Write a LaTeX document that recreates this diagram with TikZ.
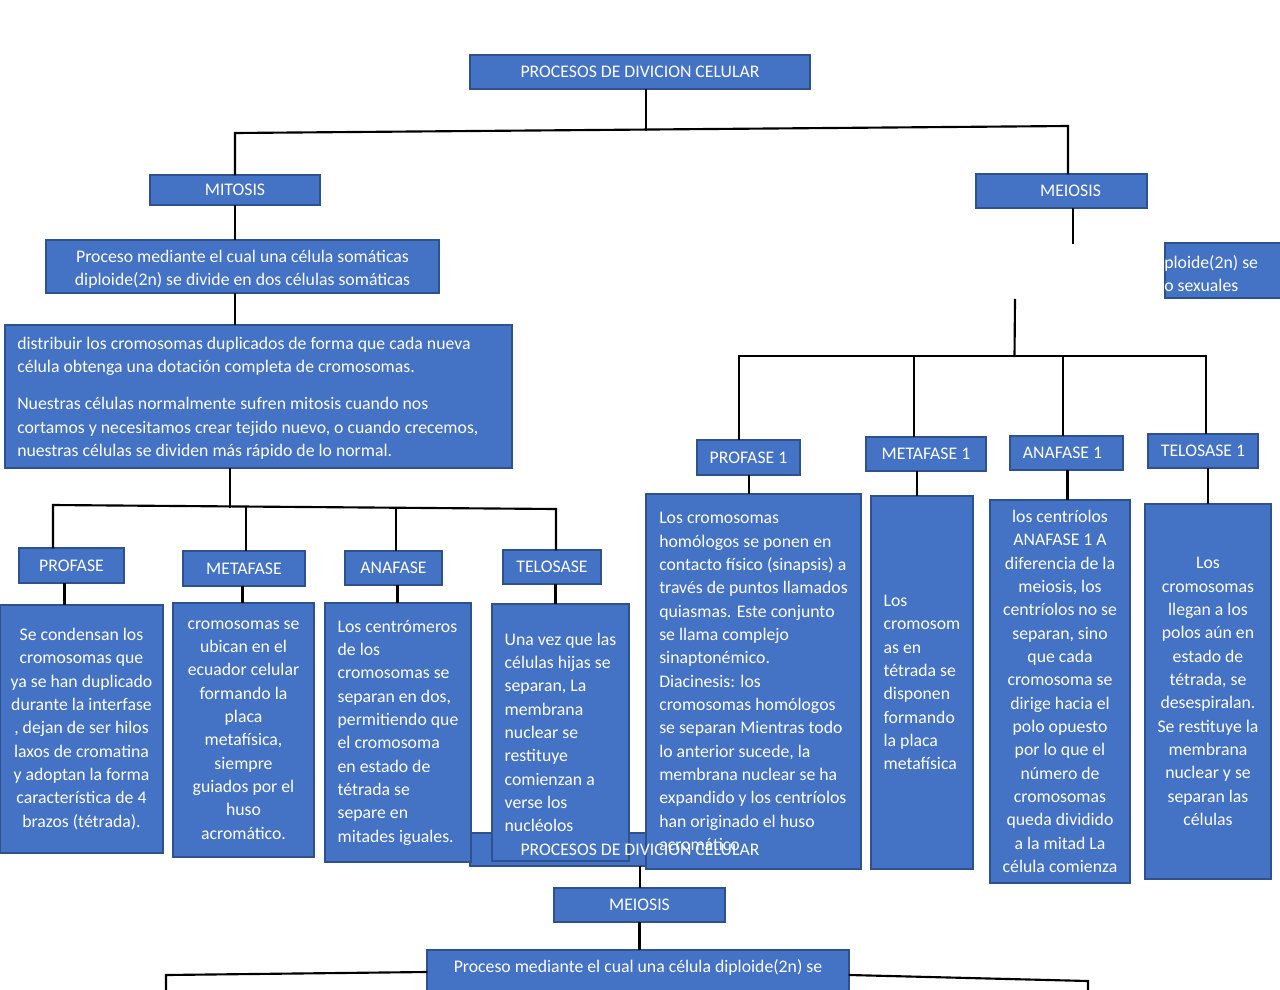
\documentclass[tikz,border=0pt]{standalone}
\usepackage{fontspec}
\setmainfont{Carlito}
\definecolor{boxfill}{HTML}{4472C4}
\definecolor{boxline}{HTML}{2F528F}
\tikzset{
  box/.style={draw=boxline, fill=boxfill, line width=0.9pt, text=white,
    font=\fontsize{13.3}{17.5}\selectfont, inner sep=0pt},
  txt/.style={text=white, font=\fontsize{13.3}{17.5}\selectfont, inner sep=0pt},
  conn/.style={draw=black, line width=1.6pt, line cap=rect}
}
\begin{document}
\begin{tikzpicture}[x=0.75pt,y=-0.75pt]
\useasboundingbox (0,0) rectangle (1280,989);
\clip (0,0) rectangle (1280,989);

% ---------- coordinates for connectors ----------
\coordinate (b1l) at (235,133);
\coordinate (b1m) at (646,129.5);
\coordinate (b1r) at (1068,126);
\coordinate (b2m) at (230,506.5);
\coordinate (b2a) at (53,505);
\coordinate (b2b) at (246,507);
\coordinate (b2c) at (396,508);
\coordinate (b2d) at (556,509);
\coordinate (c1) at (64.5,0);
\coordinate (c2) at (242.5,0);
\coordinate (c3) at (397.5,0);
\coordinate (c4) at (555.5,0);
\coordinate (m0) at (1073,243);
\coordinate (m1) at (1015,300);
\coordinate (m2) at (1014.5,356);
\coordinate (b3a) at (739,356);
\coordinate (b3b) at (914,356);
\coordinate (b3c) at (1063,356);
\coordinate (b3d) at (1206,356);
\coordinate (d1) at (749,0);
\coordinate (d2) at (917,0);
\coordinate (d3) at (1067.5,0);
\coordinate (d4) at (1208,0);
\coordinate (b4a) at (427,972);
\coordinate (b4l) at (166,975);
\coordinate (b4le) at (166,1000);
\coordinate (b4b) at (849,975);
\coordinate (b4r) at (1088,981);
\coordinate (b4re) at (1088,1000);

% ---------- bottom overlapped box (fill first) ----------
\node[box, minimum width=255pt, minimum height=24.75pt] (bproc) at (640,849.5) {};

% ---------- top level ----------
\node[box, minimum width=255pt, minimum height=25.5pt] (top) at (640,72) {PROCESOS DE DIVICION CELULAR};
\node[box, minimum width=127.5pt, minimum height=22.5pt] (mitosis) at (235,190) {MITOSIS};
\node[box, minimum width=128.25pt, minimum height=25.5pt] (meiosis) at (1061.5,191) {\hspace*{13.5pt}MEIOSIS};

% ---------- mitosis branch ----------
\node[box, minimum width=294.75pt, minimum height=39.75pt] (mitdesc) at (242.5,266.5) {};
\node[txt, align=center] (mitdesctext) at (242.5,269.5)
  {Proceso mediante el cual una célula somáticas\\diploide(2n) se divide en dos células somáticas};
\node[box, minimum width=380.25pt, minimum height=107.25pt] (mitbig) at (258.5,396.5) {};
\node[txt, anchor=west, align=left] (mitbigtext) at (17,398)
  {distribuir los cromosomas duplicados de forma que cada nueva\\célula obtenga una dotación completa de cromosomas.\\[10.5pt]Nuestras células normalmente sufren mitosis cuando nos\\cortamos y necesitamos crear tejido nuevo, o cuando crecemos,\\nuestras células se dividen más rápido de lo normal.};

\node[box, minimum width=78.75pt, minimum height=26.25pt] (profase) at (71.5,565.5) {PROFASE};
\node[box, minimum width=91.5pt, minimum height=26.25pt] (metafase) at (244,568.5) {METAFASE};
\node[box, minimum width=72.75pt, minimum height=25.5pt] (anafase) at (393.5,568) {ANAFASE};
\node[box, minimum width=73.5pt, minimum height=25.5pt] (telosase) at (552,567) {TELOSASE};

\node[box, minimum width=122.25pt, minimum height=186pt, align=center] (profdesc) at (81.5,729)
  {Se condensan los\\cromosomas que\\ya se han duplicado\\durante la interfase\\, dejan de ser hilos\\laxos de cromatina\\y adoptan la forma\\característica de 4\\brazos (tétrada).};
\node[box, minimum width=105.75pt, minimum height=190.5pt, align=center] (metadesc) at (243.5,730)
  {cromosomas se\\ubican en el\\ecuador celular\\formando la\\placa\\metafísica,\\siempre\\guiados por el\\huso\\acromático.};
\node[box, minimum width=109.5pt, minimum height=194.25pt, align=left] (anadesc) at (398,732.5)
  {Los centrómeros\\de los\\cromosomas se\\separan en dos,\\permitiendo que\\el cromosoma\\en estado de\\tétrada se\\separe en\\mitades iguales.};
\node[box, minimum width=102.75pt, minimum height=192.75pt, align=left] (teldesc) at (560.5,732.5)
  {Una vez que las\\células hijas se\\separan, La\\membrana\\nuclear se\\restituye\\comienzan a\\verse los\\nucléolos};

% ---------- meiosis branch ----------
\node[box, minimum width=90pt, minimum height=41.25pt] (meidesc) at (1225,270.5) {};
\node[txt, anchor=west, align=left] (meitext) at (1164,273.5) {ploide(2n) se\\o sexuales};

\node[box, minimum width=77.25pt, minimum height=26.25pt] (prof1) at (748.5,457.5) {PROFASE 1};
\node[box, minimum width=90pt, minimum height=25.5pt] (meta1) at (926,454) {METAFASE 1};
\node[box, minimum width=84.75pt, minimum height=25.5pt] (ana1) at (1066.5,453) {ANAFASE 1\hspace*{6pt}};
\node[box, minimum width=82.5pt, minimum height=25.5pt] (tel1) at (1203,451) {TELOSASE 1};

\node[box, minimum width=161.25pt, minimum height=281.25pt, align=left] (prof1desc) at (753.5,681.5)
  {Los cromosomas\\homólogos se ponen en\\contacto físico (sinapsis) a\\través de puntos llamados\\quiasmas. Este conjunto\\se llama complejo\\sinaptonémico.\\Diacinesis: los\\cromosomas homólogos\\se separan Mientras todo\\lo anterior sucede, la\\membrana nuclear se ha\\expandido y los centríolos\\han originado el huso\\acromático};
\node[box, minimum width=76.5pt, minimum height=279.75pt, align=left] (meta1desc) at (922,682.5)
  {Los\\cromosom\\as en\\tétrada se\\disponen\\formando\\la placa\\metafísica};
\node[box, minimum width=105pt, minimum height=287.25pt, align=center] (ana1desc) at (1060,691.5)
  {los centríolos\\ANAFASE 1 A\\diferencia de la\\meiosis, los\\centríolos no se\\separan, sino\\que cada\\cromosoma se\\dirige hacia el\\polo opuesto\\por lo que el\\número de\\cromosomas\\queda dividido\\a la mitad La\\célula comienza};
\node[box, minimum width=94.5pt, minimum height=281.25pt, align=center] (tel1desc) at (1208,691.5)
  {Los\\cromosomas\\llegan a los\\polos aún en\\estado de\\tétrada, se\\desespiralan.\\Se restituye la\\membrana\\nuclear y se\\separan las\\células};

% ---------- bottom ----------
\node[txt] (bproctext) at (640,850) {PROCESOS DE DIVICION CELULAR};
\node[box, minimum width=128.25pt, minimum height=25.5pt] (meiosis2) at (639.5,905) {MEIOSIS};
\node[box, minimum width=316.5pt, minimum height=45pt] (bdesc) at (638,980) {};
\node[txt] (bdesctext) at (638,967) {Proceso mediante el cual una célula diploide(2n) se};

% ---------- connectors ----------
\draw[conn] (top.south -| b1m) -- (b1m);
\draw[conn] (mitosis.north) -- (b1l) -- (b1r) -- (b1r |- meiosis.north);
\draw[conn] (mitosis.south) -- (mitosis.south |- mitdesc.north);
\draw[conn] (mitosis.south |- mitdesc.south) -- (mitosis.south |- mitbig.north);
\draw[conn] (b2m |- mitbig.south) -- (b2m);
\draw[conn] (b2a |- profase.north) -- (b2a) -- (b2d) -- (b2d |- telosase.north);
\draw[conn] (b2b) -- (b2b |- metafase.north);
\draw[conn] (b2c) -- (b2c |- anafase.north);
\draw[conn] (c1 |- profase.south) -- (c1 |- profdesc.north);
\draw[conn] (c2 |- metafase.south) -- (c2 |- metadesc.north);
\draw[conn] (c3 |- anafase.south) -- (c3 |- anadesc.north);
\draw[conn] (c4 |- telosase.south) -- (c4 |- teldesc.north);

\draw[conn] (m0 |- meiosis.south) -- (m0);
\draw[conn] (m1) -- (m2);
\draw[conn] (b3a |- prof1.north) -- (b3a) -- (b3d) -- (b3d |- tel1.north);
\draw[conn] (b3b) -- (b3b |- meta1.north);
\draw[conn] (b3c) -- (b3c |- ana1.north);
\draw[conn] (d1 |- prof1.south) -- (d1 |- prof1desc.north);
\draw[conn] (d2 |- meta1.south) -- (d2 |- meta1desc.north);
\draw[conn] (d3 |- ana1.south) -- (d3 |- ana1desc.north);
\draw[conn] (d4 |- tel1.south) -- (d4 |- tel1desc.north);

\draw[conn] (bproc.south) -- (bproc.south |- meiosis2.north);
\draw[conn] (meiosis2.south) -- (meiosis2.south |- bdesc.north);
\draw[conn] (bdesc.west |- b4a) -- (b4l) -- (b4le);
\draw[conn] (bdesc.east |- b4b) -- (b4r) -- (b4re);
\end{tikzpicture}
\end{document}
